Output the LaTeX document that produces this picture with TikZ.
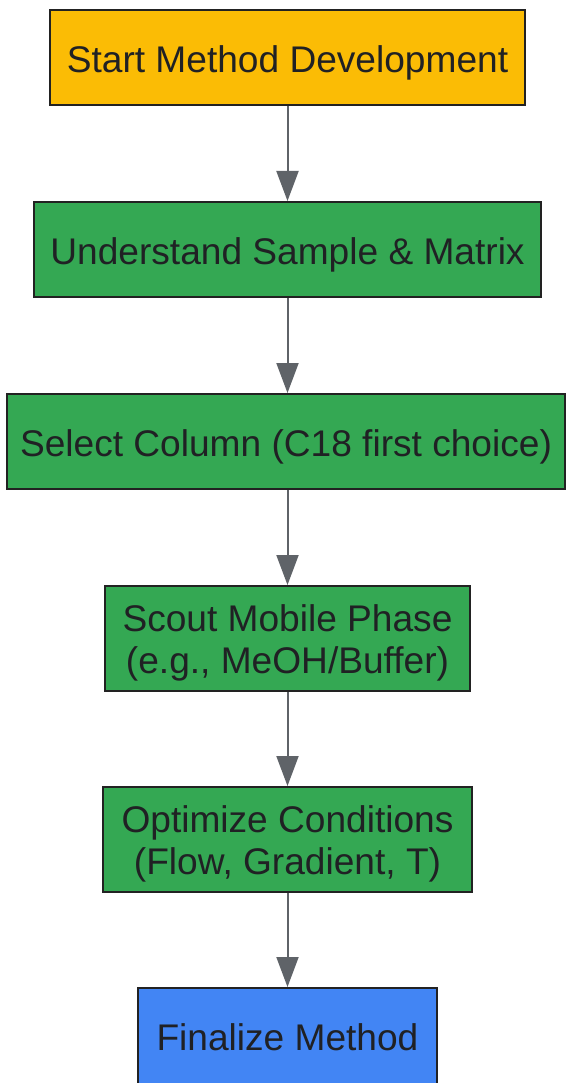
\documentclass[tikz,border=0pt]{standalone}
\usepackage{fontspec}
\setmainfont{Liberation Sans}
\usetikzlibrary{arrows.meta}
\definecolor{cyellow}{HTML}{FBBC05}
\definecolor{cgreen}{HTML}{34A853}
\definecolor{cblue}{HTML}{4285F4}
\definecolor{cborder}{HTML}{222222}
\definecolor{ctext}{HTML}{202124}
\definecolor{carrow}{HTML}{5F6368}
\begin{document}
\begin{tikzpicture}[x=1pt,y=-1pt,
  box/.style={draw=cborder, line width=2pt, rectangle, inner sep=0pt, align=center,
    text=ctext, text height=29.5pt, text depth=0pt, font=\fontsize{37.1}{41.7}\selectfont},
  twoline/.style={text height=70pt, text depth=0pt},
  conn/.style={draw=carrow, line width=2pt, -{Triangle[width=22pt,length=30pt]}}]
\useasboundingbox (0,0) rectangle (566,1083);
\node[box, fill=cyellow, minimum width=475pt, minimum height=95pt] (n1) at (287.5,57.5) {Start Method Development};
\node[box, fill=cgreen, minimum width=507pt, minimum height=95pt] (n2) at (287.5,249.5) {Understand Sample \& Matrix};
\node[box, fill=cgreen, minimum width=558pt, minimum height=95pt] (n3) at (286,441.5) {Select Column (C18 first choice)};
\node[box, twoline, fill=cgreen, minimum width=365pt, minimum height=105pt] (n4) at (287.5,638.5) {Scout Mobile Phase\\(e.g., MeOH/Buffer)};
\node[box, twoline, fill=cgreen, minimum width=369pt, minimum height=105pt] (n5) at (287.5,839.5) {Optimize Conditions\\(Flow, Gradient, T)};
\node[box, text height=24.5pt, fill=cblue, minimum width=299pt, minimum height=100pt] (n6) at (287.5,1038) {Finalize Method};
\draw[conn] (n1.south) -- (n2.north);
\draw[conn] (n2.south) -- (n3.north -| n2.south);
\draw[conn] (n3.south -| n2.south) -- (n4.north);
\draw[conn] (n4.south) -- (n5.north);
\draw[conn] (n5.south) -- (n6.north);
\end{tikzpicture}
\end{document}
